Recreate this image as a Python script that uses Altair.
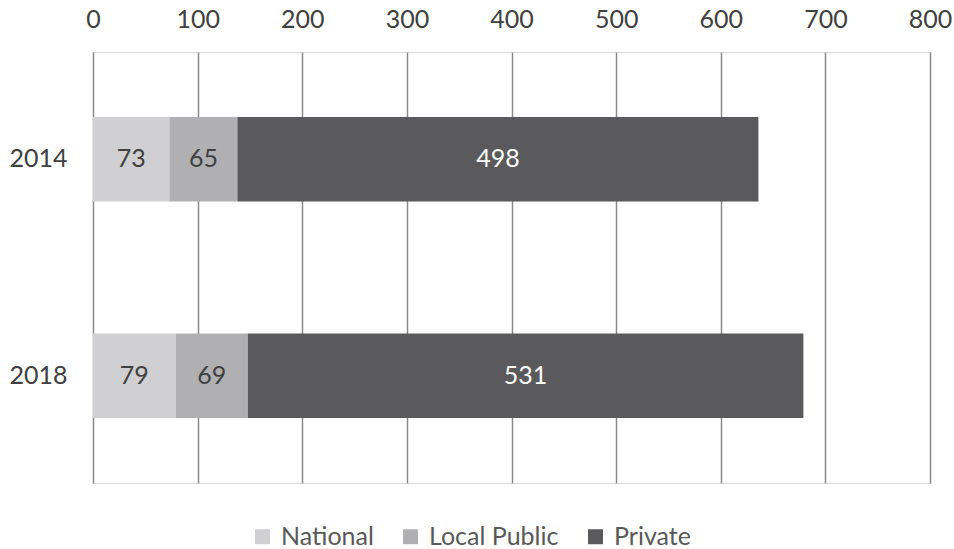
import altair as alt
import pandas as pd

years = ["2014", "2018"]
categories = ["National", "Local Public", "Private"]
national = [73, 79]
local_public = [65, 69]
private = [498, 531]
colors = ["#d0d0d2", "#b0b0b2", "#5a5a5c"]
text_colors = ["#404040", "#404040", "#ffffff"]

rows = []
for i, y in enumerate(years):
    for j, (cat, vals) in enumerate(zip(categories, [national, local_public, private])):
        rows.append({"year": y, "type": cat, "value": vals[i], "order": j,
                     "tcolor": text_colors[j]})
df = pd.DataFrame(rows)

FONT = "Lato"

base = alt.Chart(df).transform_stack(
    stack="value", groupby=["year"], as_=["x0", "x1"],
    sort=[alt.SortField("order", order="ascending")]
).transform_calculate(mid="(datum.x0 + datum.x1) / 2")

y_enc = alt.Y("year:N", sort=years, title=None,
              scale=alt.Scale(paddingInner=0.61, paddingOuter=0.30),
              axis=alt.Axis(domain=False, ticks=False, grid=False, labelFontSize=25,
                            labelFont=FONT, labelColor="#404040", labelPadding=26))

bars = base.mark_bar().encode(
    x=alt.X("x0:Q", title=None, scale=alt.Scale(domain=[0, 800], nice=False),
            axis=alt.Axis(orient="top", values=list(range(0, 801, 100)), domain=False,
                          ticks=False, grid=True, gridColor="#8a8a8a", gridWidth=1.5,
                          labelFontSize=25, labelFont=FONT, labelColor="#404040",
                          labelPadding=20, labelFlush=False)),
    x2="x1:Q",
    y=y_enc,
    color=alt.Color("type:N", sort=categories,
                    scale=alt.Scale(domain=categories, range=colors),
                    legend=alt.Legend(title=None, orient="none", direction="horizontal",
                                      legendX=157, legendY=472, symbolType="square",
                                      symbolSize=225, symbolStrokeWidth=0,
                                      labelFontSize=25, labelFont=FONT,
                                      labelColor="#595959", labelOffset=6,
                                      columnPadding=24)),
)

labels = base.mark_text(fontSize=25, font=FONT).encode(
    x=alt.X("mid:Q"),
    y=alt.Y("year:N", sort=years),
    text=alt.Text("value:Q"),
    color=alt.Color("tcolor:N", scale=None),
)

chart = alt.layer(bars, labels).properties(
    width=837, height=431,
    autosize=alt.AutoSizeParams(type="none"),
    padding={"left": 93, "top": 52, "right": 24, "bottom": 66},
).configure_view(stroke=None).configure(background="white")

chart.save("out.html", embed_options={"renderer": "svg", "actions": False})
